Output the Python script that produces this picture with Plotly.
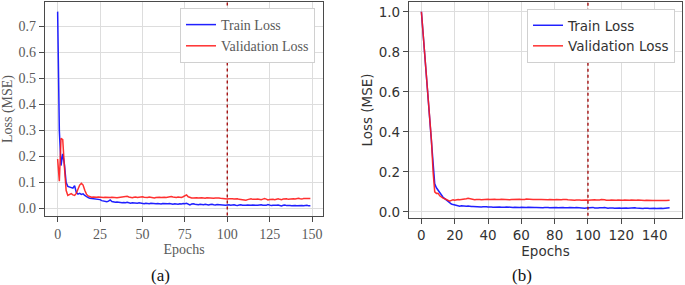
import plotly.graph_objects as go

EPOCHS = list(range(150))

A_TRAIN = [0.757, 0.300, 0.165, 0.210, 0.170, 0.100, 0.085, 0.082, 0.080, 0.078,
 0.088, 0.062, 0.055, 0.058, 0.054, 0.056, 0.050, 0.045, 0.042, 0.039,
 0.038, 0.036, 0.035, 0.036, 0.033, 0.034, 0.030, 0.028, 0.027, 0.026,
 0.028, 0.033, 0.027, 0.025, 0.024, 0.025, 0.023, 0.024, 0.022, 0.023,
 0.022, 0.024, 0.021, 0.020, 0.022, 0.021, 0.019, 0.020, 0.022, 0.021,
 0.019, 0.018, 0.020, 0.019, 0.018, 0.020, 0.019, 0.017, 0.018, 0.019,
 0.018, 0.017, 0.019, 0.018, 0.017, 0.018, 0.019, 0.017, 0.016, 0.018,
 0.017, 0.016, 0.018, 0.017, 0.019, 0.018, 0.020, 0.016, 0.014, 0.017,
 0.018, 0.016, 0.015, 0.014, 0.016, 0.015, 0.014, 0.016, 0.015, 0.013,
 0.015, 0.016, 0.014, 0.013, 0.015, 0.014, 0.013, 0.014, 0.013, 0.012,
 0.013, 0.014, 0.012, 0.013, 0.014, 0.012, 0.011, 0.013, 0.014, 0.012,
 0.011, 0.012, 0.013, 0.011, 0.012, 0.013, 0.012, 0.011, 0.012, 0.013,
 0.014, 0.012, 0.011, 0.012, 0.015, 0.012, 0.011, 0.012, 0.011, 0.012,
 0.013, 0.011, 0.010, 0.012, 0.013, 0.011, 0.012, 0.011, 0.010, 0.012,
 0.011, 0.010, 0.011, 0.012, 0.011, 0.010, 0.011, 0.012, 0.010, 0.010]

A_VAL = [0.190, 0.105, 0.270, 0.265, 0.160, 0.070, 0.050, 0.052, 0.057, 0.052,
 0.050, 0.058, 0.075, 0.090, 0.097, 0.090, 0.070, 0.055, 0.048, 0.044,
 0.043, 0.044, 0.042, 0.043, 0.044, 0.043, 0.041, 0.042, 0.043, 0.042,
 0.041, 0.042, 0.043, 0.042, 0.040, 0.041, 0.042, 0.043, 0.042, 0.044,
 0.046, 0.047, 0.044, 0.042, 0.041, 0.043, 0.044, 0.042, 0.043, 0.045,
 0.045, 0.043, 0.041, 0.042, 0.044, 0.043, 0.041, 0.040, 0.042, 0.043,
 0.043, 0.042, 0.044, 0.043, 0.042, 0.044, 0.046, 0.046, 0.044, 0.043,
 0.042, 0.044, 0.043, 0.042, 0.045, 0.049, 0.052, 0.045, 0.041, 0.040,
 0.040, 0.042, 0.041, 0.040, 0.042, 0.041, 0.040, 0.039, 0.041, 0.040,
 0.041, 0.040, 0.039, 0.040, 0.041, 0.040, 0.039, 0.038, 0.037, 0.037,
 0.036, 0.037, 0.038, 0.037, 0.036, 0.038, 0.037, 0.035, 0.034, 0.034,
 0.033, 0.032, 0.034, 0.036, 0.037, 0.035, 0.034, 0.035, 0.036, 0.034,
 0.034, 0.036, 0.038, 0.036, 0.033, 0.034, 0.036, 0.035, 0.034, 0.036,
 0.037, 0.035, 0.034, 0.036, 0.038, 0.037, 0.035, 0.036, 0.038, 0.037,
 0.036, 0.038, 0.039, 0.037, 0.036, 0.038, 0.039, 0.038, 0.038, 0.038]

B_TRAIN = [1.000, 0.890, 0.780, 0.670, 0.560, 0.450, 0.330, 0.220, 0.140, 0.120,
 0.108, 0.095, 0.083, 0.073, 0.066, 0.059, 0.051, 0.044, 0.039, 0.036,
 0.034, 0.031, 0.029, 0.028, 0.030, 0.029, 0.027, 0.028, 0.029, 0.027,
 0.026, 0.027, 0.026, 0.025, 0.026, 0.025, 0.024, 0.025, 0.026, 0.025,
 0.024, 0.025, 0.024, 0.023, 0.024, 0.025, 0.023, 0.024, 0.023, 0.022,
 0.023, 0.024, 0.023, 0.022, 0.023, 0.022, 0.023, 0.022, 0.021, 0.022,
 0.023, 0.022, 0.021, 0.022, 0.023, 0.022, 0.021, 0.022, 0.021, 0.022,
 0.021, 0.022, 0.021, 0.020, 0.021, 0.022, 0.021, 0.020, 0.021, 0.021,
 0.020, 0.021, 0.020, 0.021, 0.020, 0.021, 0.020, 0.019, 0.020, 0.021,
 0.020, 0.019, 0.020, 0.021, 0.020, 0.019, 0.020, 0.019, 0.018, 0.019,
 0.020, 0.019, 0.021, 0.022, 0.019, 0.018, 0.019, 0.020, 0.019, 0.020,
 0.021, 0.019, 0.018, 0.019, 0.020, 0.019, 0.018, 0.019, 0.020, 0.019,
 0.018, 0.019, 0.020, 0.019, 0.018, 0.019, 0.018, 0.019, 0.020, 0.019,
 0.018, 0.019, 0.018, 0.017, 0.018, 0.019, 0.018, 0.017, 0.018, 0.019,
 0.018, 0.017, 0.018, 0.019, 0.018, 0.017, 0.018, 0.019, 0.019, 0.020]

B_VAL = [1.000, 0.900, 0.800, 0.700, 0.600, 0.490, 0.360, 0.200, 0.100, 0.092,
 0.093, 0.080, 0.072, 0.068, 0.065, 0.060, 0.055, 0.053, 0.057, 0.060,
 0.058, 0.060, 0.062, 0.060, 0.061, 0.063, 0.062, 0.065, 0.068, 0.066,
 0.063, 0.061, 0.060, 0.061, 0.062, 0.061, 0.060, 0.061, 0.063, 0.064,
 0.063, 0.062, 0.063, 0.064, 0.063, 0.062, 0.061, 0.062, 0.063, 0.062,
 0.061, 0.062, 0.061, 0.060, 0.061, 0.062, 0.061, 0.062, 0.064, 0.063,
 0.061, 0.060, 0.062, 0.064, 0.063, 0.061, 0.060, 0.061, 0.062, 0.061,
 0.060, 0.061, 0.062, 0.061, 0.060, 0.059, 0.060, 0.061, 0.060, 0.059,
 0.060, 0.061, 0.060, 0.059, 0.060, 0.061, 0.062, 0.061, 0.060, 0.059,
 0.060, 0.059, 0.058, 0.059, 0.060, 0.059, 0.058, 0.059, 0.060, 0.059,
 0.058, 0.059, 0.061, 0.062, 0.060, 0.059, 0.058, 0.059, 0.061, 0.062,
 0.060, 0.058, 0.057, 0.058, 0.059, 0.058, 0.057, 0.058, 0.059, 0.058,
 0.057, 0.058, 0.059, 0.058, 0.057, 0.058, 0.059, 0.058, 0.057, 0.058,
 0.059, 0.058, 0.057, 0.056, 0.057, 0.058, 0.057, 0.056, 0.055, 0.056,
 0.057, 0.056, 0.055, 0.056, 0.057, 0.058, 0.057, 0.056, 0.057, 0.058]

STOP_EPOCH = 100
A_YTICKS = [0.0, 0.1, 0.2, 0.3, 0.4, 0.5, 0.6, 0.7]
A_XTICKS = [0, 25, 50, 75, 100, 125, 150]
B_YTICKS = [0.0, 0.2, 0.4, 0.6, 0.8, 1.0]
B_XTICKS = [0, 20, 40, 60, 80, 100, 120, 140]

SERIF = "Liberation Serif, Times New Roman, serif"
SANS = "DejaVu Sans, sans-serif"
A_TXT = "#5a5a5a"
B_TXT = "#333333"
BLUE = "rgba(20,20,255,0.95)"
RED = "rgba(255,25,25,0.9)"
GRID = "#dddddd"
AXC = "#4a4a4a"

W, H = 685, 285

def px(x):
    return x / W

def py(y):
    return 1 - y / H

fig = go.Figure()
fig.add_trace(go.Scatter(x=EPOCHS, y=A_TRAIN, mode="lines", name="Train Loss",
                         line=dict(color=BLUE, width=1.5), xaxis="x", yaxis="y", legend="legend"))
fig.add_trace(go.Scatter(x=EPOCHS, y=A_VAL, mode="lines", name="Validation Loss",
                         line=dict(color=RED, width=1.5), xaxis="x", yaxis="y", legend="legend"))
fig.add_trace(go.Scatter(x=EPOCHS, y=B_TRAIN, mode="lines", name="Train Loss",
                         line=dict(color=BLUE, width=1.5), xaxis="x2", yaxis="y2", legend="legend2"))
fig.add_trace(go.Scatter(x=EPOCHS, y=B_VAL, mode="lines", name="Validation Loss",
                         line=dict(color=RED, width=1.5), xaxis="x2", yaxis="y2", legend="legend2"))

def ax(domain, rng, ticks, fnt, size, col, anchor, title, standoff):
    return dict(domain=domain, range=rng, tickvals=ticks,
                ticktext=[str(t) for t in ticks] if isinstance(ticks[0], int) else [f"{t:.1f}" for t in ticks],
                showgrid=True, gridcolor=GRID, gridwidth=1.2, zeroline=False,
                showline=True, linecolor=AXC, linewidth=1.3, mirror=True,
                ticks="outside", ticklen=5, tickwidth=1.2, tickcolor=AXC,
                tickfont=dict(family=fnt, size=size, color=col),
                title=dict(text=title, standoff=standoff, font=dict(family=fnt, size=size, color=col)),
                anchor=anchor, automargin=False)

fig.update_layout(
    width=W, height=H,
    margin=dict(l=0, r=0, t=0, b=0),
    paper_bgcolor="white", plot_bgcolor="white",
    xaxis=ax([px(45), px(323)], [-7.45, 156.45], A_XTICKS, SERIF, 14, A_TXT, "y", "Epochs", 3),
    yaxis=ax([py(216), py(2)], [-0.029, 0.794], A_YTICKS, SERIF, 14, A_TXT, "x", "Loss (MSE)", 6),
    xaxis2=ax([px(409), px(682)], [-7.45, 156.45], B_XTICKS, SANS, 13.5, B_TXT, "y2", "Epochs", 0),
    yaxis2=ax([py(218), py(2)], [-0.031, 1.049], B_YTICKS, SANS, 13.5, B_TXT, "x2", "Loss (MSE)", 2),
    legend=dict(x=px(315), y=py(8), xanchor="right", yanchor="top",
                bgcolor="white", bordercolor="#d0d0d0", borderwidth=1,
                font=dict(family=SERIF, size=14, color=A_TXT), tracegroupgap=0),
    legend2=dict(x=px(675), y=py(9), xanchor="right", yanchor="top",
                 bgcolor="white", bordercolor="#d0d0d0", borderwidth=1,
                 font=dict(family=SANS, size=13.5, color=B_TXT), tracegroupgap=0),
    showlegend=True,
)

for xr, yr in (("x", "y"), ("x2", "y2")):
    fig.add_shape(type="line", xref=xr, yref=yr,
                  x0=STOP_EPOCH, x1=STOP_EPOCH, y0=-0.05, y1=1.1,
                  line=dict(color="#a00000", width=1.3, dash="dot"), layer="above")

fig.add_annotation(text="(a)", x=px(160), y=py(275), xref="paper", yref="paper",
                   xanchor="center", yanchor="middle",
                   showarrow=False, font=dict(family=SERIF, size=17, color="#111111"))
fig.add_annotation(text="(b)", x=px(522), y=py(275), xref="paper", yref="paper",
                   xanchor="center", yanchor="middle",
                   showarrow=False, font=dict(family=SERIF, size=17, color="#111111"))

fig.write_html("out.html", config={"displayModeBar": False},
               post_script="document.body.style.margin='0';document.body.style.overflow='hidden';")
